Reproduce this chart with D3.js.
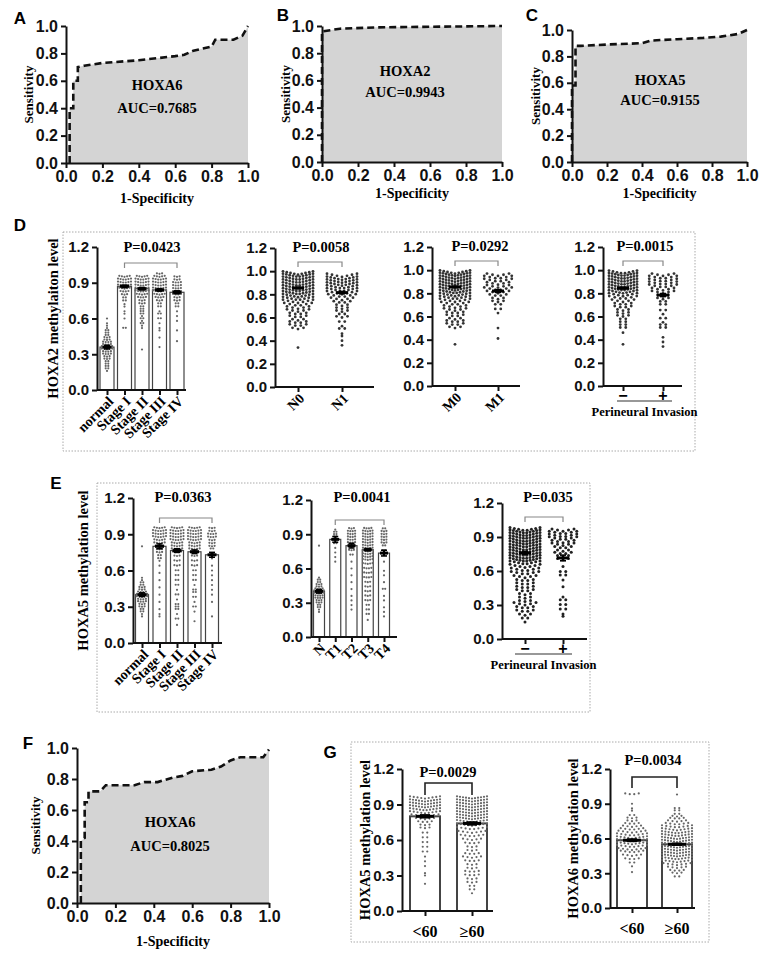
<!DOCTYPE html>
<html>
<head>
<meta charset="utf-8">
<script src="https://cdn.jsdelivr.net/npm/d3@7"></script>
<style>
  body { margin: 0; background: #fff; }
  text { font-weight: bold; }
</style>
</head>
<body>
<div id="chart"></div>
<script>
// ---------- ROC curves (1-specificity, sensitivity) ----------
var rocAx = [0.02, 0.02, 0.04, 0.04, 0.065, 0.065, 0.1, 0.2, 0.4, 0.6, 0.65, 0.7, 0.8, 0.82, 0.92, 0.97, 1.0];
var rocAy = [0, 0.4, 0.4, 0.6, 0.6, 0.7, 0.71, 0.73, 0.75, 0.78, 0.79, 0.82, 0.85, 0.9, 0.9, 0.93, 1.0];
var rocBx = [0, 0, 0.05, 0.1, 0.3, 1.0];
var rocBy = [0, 0.96, 0.97, 0.98, 0.99, 1.0];
var rocCx = [0, 0, 0.02, 0.02, 0.05, 0.2, 0.4, 0.45, 0.6, 0.75, 0.85, 0.95, 1.0];
var rocCy = [0, 0.58, 0.58, 0.88, 0.88, 0.89, 0.9, 0.92, 0.93, 0.94, 0.95, 0.97, 1.0];
var rocFx = [0.02, 0.02, 0.04, 0.04, 0.06, 0.06, 0.12, 0.15, 0.3, 0.35, 0.42, 0.5, 0.55, 0.6, 0.7, 0.75, 0.8, 0.85, 0.97, 1.0];
var rocFy = [0, 0.4, 0.42, 0.65, 0.65, 0.72, 0.72, 0.76, 0.76, 0.78, 0.78, 0.81, 0.82, 0.85, 0.86, 0.88, 0.92, 0.94, 0.94, 0.99];
var rocTicks = [0, 0.2, 0.4, 0.6, 0.8, 1.0];

// ---------- D: HOXA2 methylation ----------
var d1Labels = ["normal", "Stage I", "Stage II", "Stage III", "Stage IV"];
var d1Means = [0.36, 0.87, 0.85, 0.84, 0.82];
var d1Sem = [0.015, 0.01, 0.01, 0.01, 0.012];
var d1Dots = [
  [[0.16,1],[0.18,2],[0.2,2],[0.22,2],[0.24,2],[0.26,3],[0.28,3],[0.3,4],[0.32,4],[0.34,5],[0.36,5],[0.38,4],[0.4,4],[0.42,3],[0.44,3],[0.46,2],[0.48,2],[0.5,2],[0.52,1],[0.54,1],[0.56,1],[0.6,1]],
  [[0.52,2],[0.6,1],[0.64,1],[0.66,1],[0.7,1],[0.72,1],[0.75,2],[0.775,2],[0.8,3],[0.825,4],[0.85,5],[0.875,6],[0.9,6],[0.925,6],[0.95,5]],
  [[0.34,1],[0.52,1],[0.54,1],[0.56,2],[0.58,1],[0.6,2],[0.62,1],[0.64,2],[0.66,2],[0.68,2],[0.7,2],[0.725,3],[0.75,3],[0.775,4],[0.8,5],[0.825,6],[0.85,6],[0.875,6],[0.9,6],[0.925,6],[0.95,5]],
  [[0.36,1],[0.44,1],[0.5,1],[0.52,1],[0.56,1],[0.6,2],[0.64,2],[0.66,1],[0.7,2],[0.725,2],[0.75,3],[0.775,4],[0.8,5],[0.825,6],[0.85,6],[0.875,6],[0.9,6],[0.925,6],[0.95,5],[0.975,3]],
  [[0.41,1],[0.5,1],[0.58,1],[0.62,1],[0.66,1],[0.7,2],[0.725,2],[0.75,3],[0.775,3],[0.8,4],[0.825,4],[0.85,4],[0.875,4],[0.9,4],[0.925,3],[0.95,3]]
];
var d2Labels = ["N0", "N1"];
var d2Means = [0.855, 0.815];
var d2Sem = [0.006, 0.01];
var d2Dots = [
  [[0.34,1],[0.5,3],[0.525,4],[0.55,4],[0.575,3],[0.6,4],[0.625,4],[0.65,5],[0.675,5],[0.7,6],[0.725,7],[0.75,8],[0.775,9],[0.8,10],[0.825,10],[0.85,10],[0.875,10],[0.9,10],[0.925,10],[0.95,10],[0.97,9]],
  [[0.36,1],[0.4,1],[0.44,1],[0.46,1],[0.5,2],[0.525,1],[0.56,2],[0.6,3],[0.625,2],[0.65,3],[0.675,3],[0.7,3],[0.725,4],[0.75,5],[0.775,6],[0.8,7],[0.825,8],[0.85,8],[0.875,9],[0.9,9],[0.925,9],[0.95,7]]
];
var d3Labels = ["M0", "M1"];
var d3Means = [0.855, 0.82];
var d3Sem = [0.006, 0.012];
var d3Dots = [
  [[0.36,1],[0.5,3],[0.525,4],[0.55,4],[0.575,3],[0.6,4],[0.625,4],[0.65,5],[0.675,5],[0.7,6],[0.725,7],[0.75,8],[0.775,9],[0.8,10],[0.825,11],[0.85,11],[0.875,11],[0.9,11],[0.925,11],[0.95,11],[0.97,9]],
  [[0.41,1],[0.5,1],[0.63,1],[0.66,2],[0.7,2],[0.725,3],[0.75,3],[0.775,4],[0.8,5],[0.825,6],[0.85,5],[0.875,5],[0.9,6],[0.925,6],[0.95,5]]
];
var d4Labels = ["−", "+"];
var d4Means = [0.845, 0.785];
var d4Sem = [0.006, 0.013];
var d4Dots = [
  [[0.36,1],[0.46,1],[0.5,2],[0.525,2],[0.55,2],[0.575,2],[0.6,3],[0.625,3],[0.65,3],[0.675,4],[0.7,4],[0.725,5],[0.75,6],[0.775,7],[0.8,9],[0.825,10],[0.85,10],[0.875,10],[0.9,10],[0.925,10],[0.95,10],[0.97,8]],
  [[0.34,1],[0.38,1],[0.42,1],[0.5,2],[0.525,2],[0.55,1],[0.58,2],[0.62,1],[0.65,2],[0.7,2],[0.725,2],[0.75,3],[0.775,3],[0.8,5],[0.825,5],[0.85,6],[0.875,6],[0.9,6],[0.925,6],[0.95,5]]
];

// ---------- E: HOXA5 methylation ----------
var e1Labels = ["normal", "Stage I", "Stage II", "Stage III", "Stage IV"];
var e1Means = [0.4, 0.8, 0.765, 0.755, 0.73];
var e1Sem = [0.015, 0.02, 0.015, 0.015, 0.02];
var e1Dots = [
  [[0.22,1],[0.24,1],[0.26,2],[0.28,2],[0.3,3],[0.32,3],[0.34,4],[0.36,4],[0.38,5],[0.4,5],[0.42,4],[0.44,3],[0.46,3],[0.48,2],[0.5,2],[0.52,1],[0.54,1],[0.8,1]],
  [[0.22,1],[0.24,1],[0.28,1],[0.34,1],[0.4,1],[0.46,1],[0.52,1],[0.58,1],[0.64,1],[0.68,1],[0.7,2],[0.725,2],[0.75,3],[0.775,3],[0.8,4],[0.825,5],[0.85,5],[0.875,6],[0.9,6],[0.925,6],[0.95,5]],
  [[0.15,1],[0.2,2],[0.24,1],[0.28,2],[0.3,2],[0.32,2],[0.36,1],[0.4,2],[0.44,1],[0.48,2],[0.52,2],[0.56,2],[0.6,2],[0.64,3],[0.68,3],[0.72,3],[0.75,4],[0.775,5],[0.8,5],[0.825,5],[0.85,6],[0.875,6],[0.9,6],[0.925,6],[0.95,5]],
  [[0.18,1],[0.26,1],[0.3,2],[0.34,1],[0.38,2],[0.42,2],[0.44,2],[0.48,1],[0.52,2],[0.56,2],[0.6,2],[0.64,3],[0.68,3],[0.72,3],[0.75,4],[0.775,5],[0.8,5],[0.825,5],[0.85,6],[0.875,6],[0.9,6],[0.925,6],[0.95,5]],
  [[0.22,1],[0.34,1],[0.4,1],[0.44,1],[0.48,1],[0.52,1],[0.56,1],[0.6,1],[0.64,1],[0.7,1],[0.74,2],[0.78,2],[0.8,3],[0.825,3],[0.85,3],[0.875,4],[0.9,4],[0.925,3],[0.95,3]]
];
var e2Labels = ["N", "T1", "T2", "T3", "T4"];
var e2Means = [0.4, 0.855, 0.8, 0.765, 0.735];
var e2Sem = [0.015, 0.025, 0.02, 0.01, 0.025];
var e2Dots = [
  [[0.22,1],[0.24,1],[0.26,2],[0.28,2],[0.3,3],[0.32,3],[0.34,4],[0.36,4],[0.38,5],[0.4,5],[0.42,4],[0.44,3],[0.46,3],[0.48,2],[0.5,2],[0.52,1],[0.8,1]],
  [[0.66,1],[0.7,1],[0.74,1],[0.78,1],[0.82,2],[0.86,2],[0.88,2],[0.9,2],[0.92,2],[0.94,1]],
  [[0.24,1],[0.28,1],[0.32,1],[0.36,1],[0.42,1],[0.48,1],[0.54,1],[0.6,1],[0.66,1],[0.72,2],[0.76,3],[0.8,3],[0.825,4],[0.85,4],[0.875,4],[0.9,4],[0.925,4],[0.95,3]],
  [[0.15,1],[0.2,2],[0.24,2],[0.28,2],[0.32,3],[0.36,3],[0.4,3],[0.44,3],[0.48,3],[0.52,4],[0.56,4],[0.6,4],[0.64,5],[0.675,5],[0.7,5],[0.725,5],[0.75,5],[0.775,5],[0.8,5],[0.825,5],[0.85,5],[0.875,5],[0.9,5],[0.925,5],[0.95,4]],
  [[0.18,1],[0.22,1],[0.26,1],[0.32,1],[0.36,1],[0.42,2],[0.48,1],[0.54,1],[0.58,1],[0.66,1],[0.72,1],[0.76,2],[0.8,2],[0.825,3],[0.85,3],[0.875,3],[0.9,3],[0.925,3],[0.95,2]]
];
var e3Labels = ["−", "+"];
var e3Means = [0.76, 0.715];
var e3Sem = [0.012, 0.025];
var e3Dots = [
  [[0.15,1],[0.18,2],[0.21,3],[0.24,4],[0.27,4],[0.3,5],[0.33,3],[0.36,3],[0.39,3],[0.42,4],[0.45,4],[0.48,4],[0.51,4],[0.54,5],[0.57,6],[0.6,6],[0.63,7],[0.66,8],[0.685,10],[0.71,10],[0.735,10],[0.76,10],[0.785,10],[0.81,10],[0.835,10],[0.86,10],[0.885,10],[0.91,10],[0.935,10],[0.955,8]],
  [[0.2,1],[0.22,1],[0.26,2],[0.3,2],[0.34,2],[0.37,1],[0.46,1],[0.52,1],[0.56,2],[0.59,2],[0.64,1],[0.7,3],[0.725,3],[0.75,4],[0.775,3],[0.8,4],[0.825,5],[0.85,5],[0.875,6],[0.9,6],[0.925,6],[0.95,5]]
];

// ---------- G: age groups ----------
var gLabels = ["<60", "≥60"];
var g1Means = [0.8, 0.74];
var g1Sem = [0.012, 0.012];
var g1Dots = [
  [[0.23,1],[0.3,1],[0.32,1],[0.38,1],[0.42,1],[0.46,1],[0.5,2],[0.54,2],[0.58,2],[0.62,2],[0.66,2],[0.7,3],[0.725,3],[0.75,4],[0.775,5],[0.8,7],[0.825,9],[0.85,10],[0.875,11],[0.9,11],[0.925,11],[0.95,9]],
  [[0.15,1],[0.18,2],[0.21,2],[0.24,3],[0.27,3],[0.3,4],[0.33,4],[0.36,3],[0.39,3],[0.42,4],[0.45,5],[0.48,4],[0.51,3],[0.54,3],[0.57,4],[0.6,5],[0.63,6],[0.66,7],[0.69,8],[0.72,9],[0.75,10],[0.775,11],[0.8,11],[0.825,11],[0.85,11],[0.875,11],[0.9,11],[0.925,11],[0.95,11]]
];
var g2Means = [0.585, 0.55];
var g2Sem = [0.01, 0.008];
var g2Dots = [
  [[0.31,1],[0.36,1],[0.39,2],[0.42,4],[0.45,5],[0.48,6],[0.5,7],[0.525,8],[0.55,9],[0.575,10],[0.6,9],[0.625,8],[0.65,7],[0.675,6],[0.7,5],[0.725,4],[0.75,3],[0.775,3],[0.8,2],[0.84,1],[0.86,1],[0.9,1],[0.98,4]],
  [[0.27,2],[0.3,3],[0.32,4],[0.345,5],[0.37,7],[0.395,9],[0.42,10],[0.445,11],[0.47,11],[0.495,11],[0.52,11],[0.545,11],[0.57,11],[0.595,11],[0.62,10],[0.645,10],[0.67,9],[0.695,8],[0.72,6],[0.745,5],[0.77,4],[0.79,3],[0.81,2],[0.84,2],[0.86,2],[0.98,1]]
];

var SERIF = "'Liberation Serif', 'Times New Roman', serif";
var SANS = "'Liberation Sans', Arial, sans-serif";

var svg = d3.select("#chart").append("svg").attr("width", 760).attr("height", 954);

function label(x, y, txt, size, font, rot) {
  var t = svg.append("text")
    .attr("text-anchor", "middle")
    .attr("dominant-baseline", "central")
    .style("font-family", font)
    .style("font-size", size + "px")
    .text(txt);
  if (rot) t.attr("transform", "translate(" + x + "," + y + ") rotate(" + rot + ")");
  else t.attr("x", x).attr("y", y);
  return t;
}

function styleAxis(ax, size) {
  ax.selectAll("path, line").attr("stroke", "#111").attr("stroke-width", 2);
  ax.selectAll("text").style("font-family", SANS).style("font-size", size + "px").style("font-weight", "bold").attr("fill", "#111");
}

// ROC panel
function drawRoc(c) {
  var x = d3.scaleLinear().domain([0, 1]).range([c.x0, c.x1]);
  var y = d3.scaleLinear().domain([0, 1]).range([c.y0, c.y1]);
  var pts = c.fx.map(function (v, i) { return [v, c.fy[i]]; });

  svg.append("path").datum(pts)
    .attr("d", d3.area().x(function (d) { return x(d[0]); }).y0(y(0)).y1(function (d) { return y(d[1]); }))
    .attr("fill", "#d4d4d4");

  var ax = svg.append("g").attr("transform", "translate(0," + c.y0 + ")")
    .call(d3.axisBottom(x).tickValues(rocTicks).tickFormat(d3.format(".1f")).tickSize(5).tickSizeOuter(0));
  styleAxis(ax, 16);
  var ay = svg.append("g").attr("transform", "translate(" + c.x0 + ",0)")
    .call(d3.axisLeft(y).tickValues(rocTicks).tickFormat(d3.format(".1f")).tickSize(5).tickSizeOuter(0));
  styleAxis(ay, 16);

  svg.append("path").datum(pts)
    .attr("d", d3.line().x(function (d) { return x(d[0]); }).y(function (d) { return y(d[1]); }))
    .attr("fill", "none").attr("stroke", "#111").attr("stroke-width", 2.6)
    .attr("stroke-dasharray", "7,4");

  label(c.tx, c.ty1, c.gene, 14.5, SERIF);
  label(c.tx, c.ty2, c.auc, 14.5, SERIF);
  label((c.x0 + c.x1) / 2, c.xt, "1-Specificity", 14, SERIF);
  label(c.yt, (c.y0 + c.y1) / 2, "Sensitivity", 13, SERIF, -90);
}

// scatter / bar panel
function drawDots(c) {
  var y = d3.scaleLinear().domain([0, 1.2]).range([c.y0, c.yTop]);
  var x = d3.scalePoint().domain(c.labels).range([c.c0, c.c1]);
  var g = svg.append("g");

  if (c.barW) {
    g.selectAll(null).data(c.labels).enter().append("rect")
      .attr("x", function (d) { return x(d) - c.barW / 2; })
      .attr("y", function (d, i) { return y(c.means[i]); })
      .attr("width", c.barW)
      .attr("height", function (d, i) { return c.y0 - y(c.means[i]); })
      .attr("fill", "#fff").attr("stroke", "#444").attr("stroke-width", c.barStroke || 1.2);
  }

  c.dots.forEach(function (rows, gi) {
    var cx = x(c.labels[gi]);
    var pts = [];
    rows.forEach(function (r) {
      var n = r[1];
      var s = n > 1 ? Math.min(c.dx, c.maxW / (n - 1)) : 0;
      for (var k = 0; k < n; k++) {
        var off = (k - (n - 1) / 2) * s;
        pts.push([cx + off, y(r[0]) - Math.abs(off) * c.chev]);
      }
    });
    g.selectAll(null).data(pts).enter().append("circle")
      .attr("cx", function (d) { return d[0]; })
      .attr("cy", function (d) { return d[1]; })
      .attr("r", c.r).attr("fill", c.dotColor);
  });

  // mean +/- SEM
  c.labels.forEach(function (lab, i) {
    var cx = x(lab), m = c.means[i], s = c.sem[i];
    g.append("line").attr("x1", cx - c.meanW / 2).attr("x2", cx + c.meanW / 2)
      .attr("y1", y(m)).attr("y2", y(m)).attr("stroke", "#000").attr("stroke-width", 3);
    g.append("line").attr("x1", cx).attr("x2", cx).attr("y1", y(m + s)).attr("y2", y(m - s))
      .attr("stroke", "#000").attr("stroke-width", 2);
    [m + s, m - s].forEach(function (v) {
      g.append("line").attr("x1", cx - c.capW / 2).attr("x2", cx + c.capW / 2)
        .attr("y1", y(v)).attr("y2", y(v)).attr("stroke", "#000").attr("stroke-width", 1.6);
    });
  });

  var ay = svg.append("g").attr("transform", "translate(" + c.axisX + ",0)")
    .call(d3.axisLeft(y).tickValues(c.ticks).tickFormat(d3.format(".1f")).tickSize(5).tickSizeOuter(0));
  styleAxis(ay, 15);
  var ax = svg.append("g").attr("transform", "translate(0," + c.y0 + ")")
    .call(d3.axisBottom(x).tickSize(5).tickFormat(""));
  ax.select(".domain").remove();
  ax.append("line").attr("x1", c.axisX).attr("x2", c.xEnd).attr("y1", 0).attr("y2", 0);
  styleAxis(ax, 15);

  // category labels
  c.labels.forEach(function (lab) {
    var cx = x(lab);
    if (c.labelMode === "rot") {
      svg.append("text")
        .attr("transform", "translate(" + (cx + 4) + "," + (c.y0 + 9) + ") rotate(-45)")
        .attr("text-anchor", "end").attr("dominant-baseline", "central")
        .style("font-family", SERIF).style("font-size", c.labelSize + "px")
        .text(lab);
    } else if (c.labelMode === "flat") {
      label(cx, c.y0 + 20, lab, 16, SERIF);
    } else {
      label(cx, c.y0 + 9, lab, 16, SANS);
    }
  });
  if (c.labelMode === "pm") {
    svg.append("line").attr("x1", c.pmLine[0]).attr("x2", c.pmLine[1])
      .attr("y1", c.y0 + 15).attr("y2", c.y0 + 15).attr("stroke", "#333").attr("stroke-width", 1.2);
    label((c.pmLine[0] + c.pmLine[1]) / 2, c.y0 + 26, "Perineural Invasion", 12.5, SERIF);
  }

  // bracket and p value
  var bx1 = x(c.labels[c.bracket[0]]), bx2 = x(c.labels[c.bracket[1]]);
  svg.append("path")
    .attr("d", "M" + bx1 + "," + (c.bracketY + c.legs) + "V" + c.bracketY + "H" + bx2 + "V" + (c.bracketY + c.legs))
    .attr("fill", "none").attr("stroke", c.bracketColor || "#888").attr("stroke-width", c.bracketW || 1.2);
  label(c.pX, c.pY, c.pText, 14.5, SERIF);

  if (c.yTitle) label(c.yTitleX, (c.y0 + c.yTop) / 2, c.yTitle, 14.5, SERIF, -90);
}

function dottedBox(x1, y1, x2, y2) {
  svg.append("rect").attr("x", x1).attr("y", y1).attr("width", x2 - x1).attr("height", y2 - y1)
    .attr("fill", "none").attr("stroke", "#aaa").attr("stroke-width", 1).attr("stroke-dasharray", "1.5,1.5");
}

// ---- row 1: ROC ----
drawRoc({ x0: 66, x1: 248, y0: 163, y1: 26, fx: rocAx, fy: rocAy, gene: "HOXA6", auc: "AUC=0.7685", tx: 157, ty1: 85, ty2: 108, xt: 198, yt: 28 });
drawRoc({ x0: 322, x1: 502, y0: 162, y1: 26, fx: rocBx, fy: rocBy, gene: "HOXA2", auc: "AUC=0.9943", tx: 405, ty1: 71, ty2: 92, xt: 193, yt: 285 });
drawRoc({ x0: 572, x1: 747, y0: 162, y1: 30, fx: rocCx, fy: rocCy, gene: "HOXA5", auc: "AUC=0.9155", tx: 660, ty1: 80, ty2: 100, xt: 193, yt: 535 });

// ---- row 2: D ----
dottedBox(63, 232, 695, 451);
var dTicksA = [0, 0.3, 0.6, 0.9, 1.2];
var dTicksB = [0, 0.2, 0.4, 0.6, 0.8, 1.0, 1.2];
drawDots({ labels: d1Labels, means: d1Means, sem: d1Sem, dots: d1Dots, axisX: 97, xEnd: 186, y0: 390, yTop: 247,
  c0: 107, c1: 177, barW: 14, ticks: dTicksA, dx: 2.6, maxW: 15, chev: 0.18, r: 1.1, dotColor: "#666",
  meanW: 9, capW: 6, labelMode: "rot", labelSize: 14, bracket: [1, 4], bracketY: 263, legs: 5,
  pText: "P=0.0423", pX: 152, pY: 247, yTitle: "HOXA2 methylaiton level", yTitleX: 53 });
drawDots({ labels: d2Labels, means: d2Means, sem: d2Sem, dots: d2Dots, axisX: 275, xEnd: 374, y0: 387, yTop: 248,
  c0: 298, c1: 342, barW: 0, ticks: dTicksB, dx: 5.5, maxW: 30, chev: 0.22, r: 1.4, dotColor: "#333",
  meanW: 12, capW: 6, labelMode: "rot", labelSize: 14, bracket: [0, 1], bracketY: 262, legs: 5,
  pText: "P=0.0058", pX: 321, pY: 247 });
drawDots({ labels: d3Labels, means: d3Means, sem: d3Sem, dots: d3Dots, axisX: 432, xEnd: 520, y0: 386, yTop: 247,
  c0: 455, c1: 498, barW: 0, ticks: dTicksB, dx: 5.5, maxW: 30, chev: 0.22, r: 1.4, dotColor: "#333",
  meanW: 12, capW: 6, labelMode: "rot", labelSize: 14, bracket: [0, 1], bracketY: 261, legs: 5,
  pText: "P=0.0292", pX: 480, pY: 246 });
drawDots({ labels: d4Labels, means: d4Means, sem: d4Sem, dots: d4Dots, axisX: 603, xEnd: 682, y0: 386, yTop: 247,
  c0: 623, c1: 663, barW: 0, ticks: dTicksB, dx: 5.5, maxW: 28, chev: 0.22, r: 1.4, dotColor: "#333",
  meanW: 12, capW: 6, labelMode: "pm", pmLine: [617, 672], bracket: [0, 1], bracketY: 261, legs: 5,
  pText: "P=0.0015", pX: 645, pY: 246 });

// ---- row 3: E ----
dottedBox(97, 483, 590, 712);
var eTicks = [0, 0.3, 0.6, 0.9, 1.2];
drawDots({ labels: e1Labels, means: e1Means, sem: e1Sem, dots: e1Dots, axisX: 133, xEnd: 222, y0: 643, yTop: 498,
  c0: 142, c1: 212, barW: 13, ticks: eTicks, dx: 2.6, maxW: 14, chev: 0.18, r: 1.1, dotColor: "#666",
  meanW: 9, capW: 6, labelMode: "rot", labelSize: 14, bracket: [1, 4], bracketY: 518, legs: 5,
  pText: "P=0.0363", pX: 183, pY: 497, yTitle: "HOXA5 methylation level", yTitleX: 83 });
drawDots({ labels: e2Labels, means: e2Means, sem: e2Sem, dots: e2Dots, axisX: 311, xEnd: 397, y0: 637, yTop: 500,
  c0: 319, c1: 384, barW: 11, ticks: eTicks, dx: 2.4, maxW: 12, chev: 0.18, r: 1.1, dotColor: "#666",
  meanW: 8, capW: 6, labelMode: "rot", labelSize: 14, bracket: [1, 4], bracketY: 520, legs: 5,
  pText: "P=0.0041", pX: 362, pY: 497 });
drawDots({ labels: e3Labels, means: e3Means, sem: e3Sem, dots: e3Dots, axisX: 502, xEnd: 587, y0: 639, yTop: 503,
  c0: 525, c1: 563, barW: 0, ticks: eTicks, dx: 5.5, maxW: 30, chev: 0.22, r: 1.5, dotColor: "#222",
  meanW: 12, capW: 6, labelMode: "pm", pmLine: [515, 572], bracket: [0, 1], bracketY: 517, legs: 5,
  pText: "P=0.035", pX: 548, pY: 497 });

// ---- row 4: F and G ----
drawRoc({ x0: 77, x1: 269, y0: 903, y1: 748, fx: rocFx, fy: rocFy, gene: "HOXA6", auc: "AUC=0.8025", tx: 170, ty1: 822, ty2: 846, xt: 941, yt: 35 });

dottedBox(351, 742, 709, 942);
var gTicks = [0, 0.3, 0.6, 0.9, 1.2];
drawDots({ labels: gLabels, means: g1Means, sem: g1Sem, dots: g1Dots, axisX: 402, xEnd: 493, y0: 911, yTop: 769,
  c0: 425, c1: 472, barW: 30, barStroke: 2, ticks: gTicks, dx: 4.5, maxW: 30, chev: 0.15, r: 1.1, dotColor: "#666",
  meanW: 18, capW: 10, labelMode: "flat", bracket: [0, 1], bracketY: 783, legs: 12, bracketColor: "#222", bracketW: 1.6,
  pText: "P=0.0029", pX: 448, pY: 772, yTitle: "HOXA5 methylation level", yTitleX: 365 });
drawDots({ labels: gLabels, means: g2Means, sem: g2Sem, dots: g2Dots, axisX: 610, xEnd: 695, y0: 908, yTop: 769,
  c0: 632, c1: 677, barW: 30, barStroke: 2, ticks: gTicks, dx: 4.5, maxW: 30, chev: 0.15, r: 1.1, dotColor: "#666",
  meanW: 18, capW: 10, labelMode: "flat", bracket: [0, 1], bracketY: 777, legs: 11, bracketColor: "#222", bracketW: 1.6,
  pText: "P=0.0034", pX: 653, pY: 760, yTitle: "HOXA6 methylation level", yTitleX: 573 });

// panel letters
[["A", 20, 18], ["B", 283, 15], ["C", 532, 15], ["D", 20, 225], ["E", 56, 483], ["F", 28, 743], ["G", 330, 752]]
  .forEach(function (p) { label(p[1], p[2], p[0], 17, SANS); });
</script>
</body>
</html>
